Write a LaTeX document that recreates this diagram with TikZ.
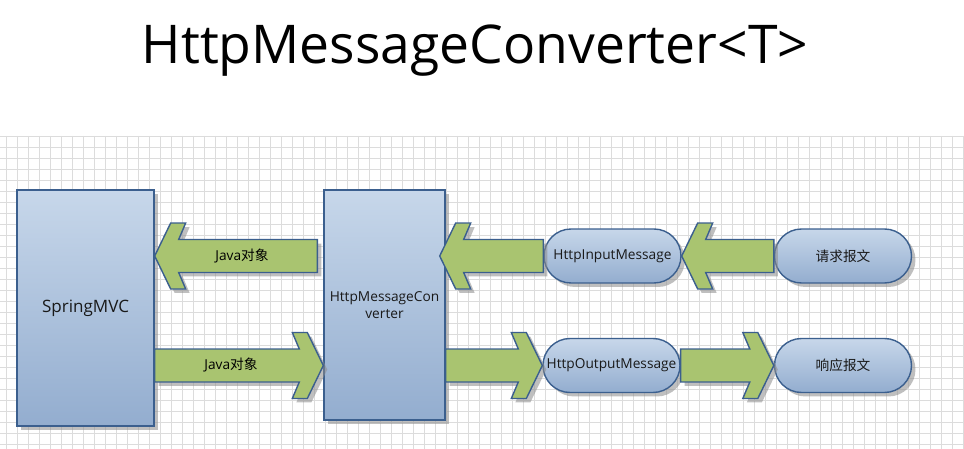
\documentclass[tikz,border=0pt]{standalone}
\usepackage{fontspec}
\setmainfont{Open Sans}
\newfontfamily\cjk{Noto Sans CJK SC}
\usepackage{tikz}
\usetikzlibrary{calc,shadows}
\definecolor{mblue}{HTML}{3B5F8E}
\definecolor{mtop}{HTML}{C7D7EA}
\definecolor{mbot}{HTML}{93ADCF}
\definecolor{mgreen}{HTML}{A9C470}
\definecolor{mgrid}{HTML}{DCDCDC}

% fat arrow from tail #1 to tip #2 (horizontal)
\newcommand\blockarrow[2]{%
  \coordinate (ba-n) at ($(#2)!0.48cm!(#1)$);
  \coordinate (ba-b) at ($(#2)!0.62cm!(#1)$);
  \coordinate (ba-f) at ($(#2)!0.32cm!(#1)$);
  \draw[fatarrow] ([yshift=0.33cm]#1) -- ([yshift=0.33cm]ba-n)
    -- ([yshift=0.66cm]ba-b) -- ([yshift=0.66cm]ba-f) -- (#2)
    -- ([yshift=-0.66cm]ba-f) -- ([yshift=-0.66cm]ba-b)
    -- ([yshift=-0.33cm]ba-n) -- ([yshift=-0.33cm]#1) -- cycle;}

\begin{document}
\begin{tikzpicture}[x=0.02cm,y=-0.02cm,
  font=\fontsize{7.8}{9.4}\selectfont,
  shade/.style={drop shadow={shadow xshift=0.08cm,shadow yshift=-0.08cm,
                fill=black!45,opacity=0.55}},
  box/.style={draw=mblue,line width=0.8pt,top color=mtop,bottom color=mbot,
              shade,align=center,inner sep=2pt,text=black!90},
  pill/.style={box,rounded corners=0.54cm,minimum width=2.74cm,minimum height=1.08cm},
  fatarrow/.style={draw=mblue,line width=0.8pt,fill=mgreen,line join=miter,shade},
  gridline/.style={mgrid,line width=0.5pt}]
\useasboundingbox (0,0) rectangle (964,449);
\fill[white] (0,0) rectangle (964,449);
\foreach \gx in {6,17,...,963} \draw[gridline] (\gx,136) -- (\gx,449);
\foreach \gy in {136,147,...,449} \draw[gridline] (0,\gy) -- (964,\gy);

\node[font=\fontsize{30.4}{36}\selectfont,anchor=base] (title) at (475,64)
  {HttpMessageConverter<T>};

\node[box,minimum width=2.74cm,minimum height=4.72cm,
      font=\fontsize{9.7}{11}\selectfont] (spring) at (85.5,308) {SpringMVC};
\node[box,minimum width=2.42cm,minimum height=4.6cm] (conv) at (384.5,305)
  {HttpMessageCon\\verter};
\node[pill] (in)   at (612.5,256) {HttpInputMessage};
\node[pill] (req)  at (843,256)   {\cjk 请求报文};
\node[pill] (out)  at (611.5,365.5) {HttpOutputMessage};
\node[pill] (resp) at (843,365.5) {\cjk 响应报文};

\coordinate (j1tail) at ([xshift=-0.12cm]conv.west |- in.west);
\coordinate (j1tip)  at (spring.east |- in.west);
\coordinate (j2tail) at (spring.east |- out.west);
\coordinate (j2tip)  at (conv.west |- out.west);
\coordinate (c1tip)  at ([xshift=-0.12cm]conv.east |- in.west);
\coordinate (c2tail) at (conv.east |- out.west);

\blockarrow{j1tail}{j1tip}
\blockarrow{j2tail}{j2tip}
\blockarrow{in.west}{c1tip}
\blockarrow{req.west}{in.east}
\blockarrow{c2tail}{out.west}
\blockarrow{out.east}{resp.west}

\node (jin)  at ($(j1tail)!0.5!(j1tip)+(6,0)$) {Java{\cjk 对象}};
\node (jout) at ($(j2tail)!0.5!(j2tip)+(-8,0)$) {Java{\cjk 对象}};
\end{tikzpicture}
\end{document}
